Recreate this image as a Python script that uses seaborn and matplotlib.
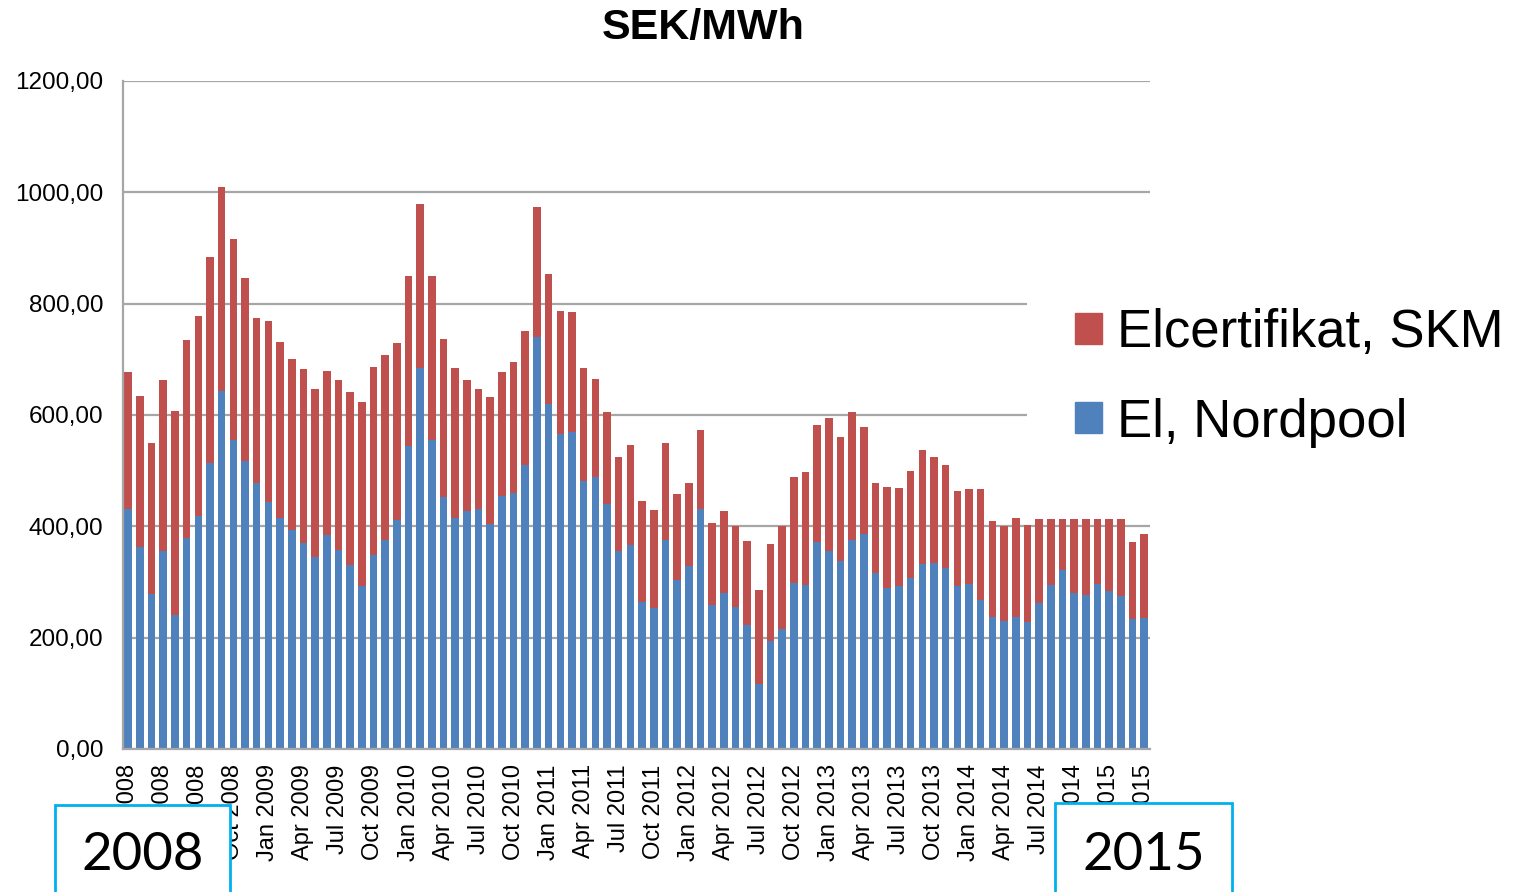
import matplotlib
matplotlib.use("Agg")
import matplotlib.pyplot as plt
import seaborn as sns
from matplotlib.patches import Rectangle, Patch

# Månader jan 2008 - apr 2015
manader_namn = ["Jan", "Feb", "Mar", "Apr", "May", "Jun", "Jul", "Aug", "Sep", "Oct", "Nov", "Dec"]
months = [f"{m} {y}" for y in range(2008, 2016) for m in manader_namn][:88]

# El, Nordpool (SEK/MWh)
nordpool = [431, 362, 279, 355, 240, 379, 419, 513, 644, 555, 518, 478,
            444, 415, 393, 370, 345, 384, 357, 331, 292, 348, 375, 412,
            544, 684, 555, 453, 415, 428, 431, 404, 455, 459, 511, 740,
            620, 566, 570, 482, 488, 441, 355, 367, 264, 254, 375, 304,
            328, 432, 259, 281, 255, 222, 117, 194, 216, 299, 294, 371,
            356, 338, 375, 386, 316, 290, 292, 307, 333, 334, 325, 292,
            296, 268, 237, 230, 237, 229, 263, 294, 321, 280, 276, 297,
            283, 275, 233, 235]

# Elcertifikat, SKM (SEK/MWh)
elcert = [247, 272, 270, 307, 367, 355, 359, 371, 365, 361, 328, 296,
          325, 317, 308, 312, 302, 295, 305, 311, 331, 338, 333, 317,
          306, 295, 295, 283, 269, 235, 216, 229, 222, 236, 239, 234,
          234, 220, 215, 203, 177, 164, 169, 179, 182, 175, 174, 154,
          149, 141, 147, 147, 146, 152, 168, 174, 184, 190, 204, 211,
          239, 223, 230, 193, 162, 181, 177, 192, 204, 191, 186, 171,
          171, 199, 173, 171, 178, 174, 151, 120, 93, 134, 138, 117,
          131, 138, 139, 151]

total = [a + b for a, b in zip(nordpool, elcert)]

blue = "#4f81bd"
red = "#c0504d"

sns.set_style("white")
plt.rcParams["font.family"] = ["Liberation Sans", "DejaVu Sans"]
plt.rcParams["text.color"] = "black"

fig = plt.figure(figsize=(15.22, 8.92), dpi=100)
ax = fig.add_axes([123 / 1522, 1 - 749 / 892, 1027 / 1522, 668 / 892])

# staplad: totalen i rött, Nordpool ovanpå i blått
sns.barplot(x=months, y=total, color=red, width=0.65, errorbar=None, saturation=1,
            linewidth=0, ax=ax)
sns.barplot(x=months, y=nordpool, color=blue, width=0.65, errorbar=None, saturation=1,
            linewidth=0, ax=ax)

ax.set_xlim(-0.45, 87.5)
ax.set_ylim(0, 1200)
yticks = list(range(0, 1201, 200))
ax.set_yticks(yticks)
ax.set_yticklabels([f"{v},00" for v in yticks], fontsize=17.5, color="black")
ax.set_xticks(range(0, 88, 3))
ax.set_xticklabels(months[::3], rotation=90, fontsize=17, color="black")
ax.tick_params(length=0)
ax.tick_params(axis="y", pad=14)
ax.tick_params(axis="x", pad=11)
ax.yaxis.grid(True, color="#a6a6a6", lw=1.6)
ax.set_axisbelow(True)
sns.despine(ax=ax)
for s in ["left", "bottom"]:
    ax.spines[s].set_color("#a6a6a6")
    ax.spines[s].set_linewidth(1.6)
ax.set_xlabel("")
ax.set_ylabel("")

fig.text(703 / 1522, 1 - 28 / 892, "SEK/MWh", fontsize=31, fontweight="bold",
         ha="center", va="center")

handles = [Patch(color=red, label="Elcertifikat, SKM"),
           Patch(color=blue, label="El, Nordpool")]
fig.legend(handles=handles, loc="center left", bbox_to_anchor=(1027 / 1522, 1 - 378 / 892),
           fontsize=38, frameon=True, facecolor="white", edgecolor="none", framealpha=1,
           handlelength=0.53, handleheight=0.53, handletextpad=0.27,
           labelspacing=0.74, borderpad=0.9, borderaxespad=0)

# årsrutor nertill
for x0, x1, y0, txt in [(55, 230, 805, "2008"), (1055, 1232, 803, "2015")]:
    rect = Rectangle((x0 / 1522, -0.05), (x1 - x0) / 1522, 0.05 + 1 - y0 / 892,
                     transform=fig.transFigure, facecolor="white", edgecolor="#00b0f0",
                     lw=2, zorder=10)
    fig.add_artist(rect)
    fig.text((x0 + x1) / 2 / 1522, 1 - 855 / 892, txt, fontsize=38, family=["Lato", "DejaVu Sans"],
             ha="center", va="center", zorder=11)

fig.savefig("out.png", dpi=100)
